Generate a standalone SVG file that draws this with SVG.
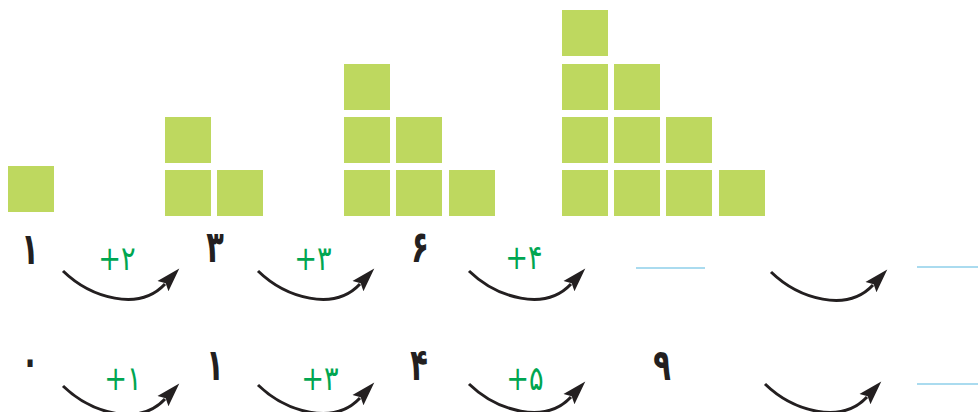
<svg xmlns="http://www.w3.org/2000/svg" width="978" height="412" viewBox="0 0 978 412">
<style>
.sq{fill:#bed85f}
.num{font-family:"DejaVu Sans",sans-serif;font-size:40px;font-weight:bold;fill:#231f20;text-anchor:middle}
.add{font-family:"DejaVu Sans",sans-serif;font-size:34px;fill:#00a651;text-anchor:middle;letter-spacing:-2px}
.arc{fill:none;stroke:#231f20;stroke-width:3;marker-end:url(#ah)}
.blank{stroke:#8ecfea;stroke-width:1.3}
</style>
<defs>
<marker id="ah" markerUnits="userSpaceOnUse" viewBox="0 -9 26 18" markerWidth="26" markerHeight="18" refX="3" refY="0" orient="auto">
<path d="M0,-7.5 L24,0 L0,7.5 L4,0 z" fill="#231f20"/>
</marker>
</defs>
<rect width="978" height="412" fill="#fff"/>
<g id="stack1">
<rect class="sq" x="8" y="166" width="46" height="46"/>
</g>
<g id="stack2">
<rect class="sq" x="165" y="117" width="46" height="46"/>
<rect class="sq" x="165" y="170" width="46" height="46"/>
<rect class="sq" x="217" y="170" width="46" height="46"/>
</g>
<g id="stack3">
<rect class="sq" x="344" y="64" width="46" height="46"/>
<rect class="sq" x="344" y="117" width="46" height="46"/>
<rect class="sq" x="396" y="117" width="46" height="46"/>
<rect class="sq" x="344" y="170" width="46" height="46"/>
<rect class="sq" x="396" y="170" width="46" height="46"/>
<rect class="sq" x="449" y="170" width="46" height="46"/>
</g>
<g id="stack4">
<rect class="sq" x="562" y="10" width="46" height="46"/>
<rect class="sq" x="562" y="64" width="46" height="46"/>
<rect class="sq" x="614" y="64" width="46" height="46"/>
<rect class="sq" x="562" y="117" width="46" height="46"/>
<rect class="sq" x="614" y="117" width="46" height="46"/>
<rect class="sq" x="666" y="117" width="46" height="46"/>
<rect class="sq" x="562" y="170" width="46" height="46"/>
<rect class="sq" x="614" y="170" width="46" height="46"/>
<rect class="sq" x="666" y="170" width="46" height="46"/>
<rect class="sq" x="719" y="170" width="46" height="46"/>
</g>
<g id="connectors">
<path class="arc" transform="translate(63,271)" d="M0,0 C28,27 76,41 102,13"/>
<path class="arc" transform="translate(258,271)" d="M0,0 C28,27 76,41 102,13"/>
<path class="arc" transform="translate(469,271)" d="M0,0 C28,27 76,41 102,13"/>
<path class="arc" transform="translate(771,272)" d="M0,0 C28,27 76,41 102,13"/>
<path class="arc" transform="translate(63,386)" d="M0,0 C28,27 76,41 102,13"/>
<path class="arc" transform="translate(258,385)" d="M0,0 C28,27 76,41 102,13"/>
<path class="arc" transform="translate(469,384)" d="M0,0 C28,27 76,41 102,13"/>
<path class="arc" transform="translate(765,384)" d="M0,0 C28,27 76,41 102,13"/>
</g>
<g id="row1">
<text class="num" transform="translate(30,264) scale(0.72,1.1)">۱</text>
<text class="num" transform="translate(215,262) scale(0.72,1.1)">۳</text>
<text class="num" transform="translate(420,262) scale(0.72,1.1)">۶</text>
<text class="add" transform="translate(117,270) scale(0.8,1)" direction="ltr">+۲</text>
<text class="add" transform="translate(313,270) scale(0.8,1)" direction="ltr">+۳</text>
<text class="add" transform="translate(524,269) scale(0.8,1)" direction="ltr">+۴</text>
<line class="blank" x1="636" y1="268" x2="705" y2="268"/>
<line class="blank" x1="917" y1="267" x2="978" y2="267"/>
</g>
<g id="row2">
<text class="num" transform="translate(30,376) scale(0.72,1.1)">۰</text>
<text class="num" transform="translate(215,380) scale(0.72,1.1)">۱</text>
<text class="num" transform="translate(419,380) scale(0.72,1.1)">۴</text>
<text class="num" transform="translate(662,380) scale(0.72,1.1)">۹</text>
<text class="add" transform="translate(123,390) scale(0.8,1)" direction="ltr">+۱</text>
<text class="add" transform="translate(320,390) scale(0.8,1)" direction="ltr">+۳</text>
<text class="add" transform="translate(525,390) scale(0.8,1)" direction="ltr">+۵</text>
<line class="blank" x1="917" y1="384" x2="978" y2="384"/>
</g>
</svg>
